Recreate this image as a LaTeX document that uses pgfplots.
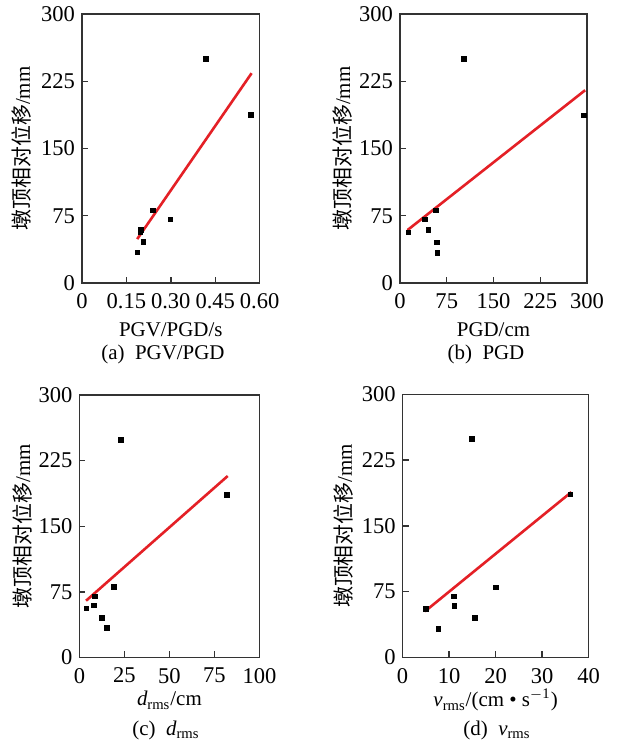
\documentclass[border=0pt]{standalone}
\usepackage{fontspec}
\setmainfont{Liberation Serif}
\newfontfamily\cjk{Noto Sans CJK SC}
\usepackage{pgfplots}
\pgfplotsset{compat=1.18}
\definecolor{fitred}{RGB}{228,32,38}
\pgfplotsset{
  panel/.style={
    scale only axis,
    anchor=south west,
    ymin=0, ymax=300,
    ytick={0,75,150,225,300},
    tick align=inside,
    tick pos=left,
    major tick length=3bp,
    axis line style={line width=0.75bp, black!80},
    every tick/.style={line width=0.7bp, black!80},
    /pgf/number format/assume math mode=true,
    tick label style={font=\fontsize{11.3}{13}\selectfont},
    label style={font=\fontsize{10.5}{12}\selectfont},
    xticklabel style={yshift=-1.8bp},
    ylabel={{\cjk 墩顶相对位移}/mm},
  },
  pts/.style={only marks, mark=square*, mark size=1.15bp, black},
  fit/.style={fitred, line width=1.3bp, no marks},
}
\begin{document}
\begin{tikzpicture}
\useasboundingbox[fill=white] (0,0) rectangle (309bp,-373bp);
% (a)
\begin{axis}[panel, at={(41bp,-141.5bp)}, width=88.8bp, height=134.5bp,
  xmin=0, xmax=0.6, xtick={0,0.15,0.3,0.45,0.6},
  xticklabels={0,0.15,0.30,0.45,0.60},
  xlabel={PGV/PGD/s},
  xlabel style={at={(axis description cs:0.5,-0.175)}, anchor=center},
  ylabel style={at={(axis description cs:-0.338,0.5)}, anchor=center}]
\addplot[pts] coordinates {(0.419,250) (0.570,187.5) (0.2385,81) (0.298,71) (0.198,59.5) (0.197,57) (0.208,46) (0.1876,34)};
\addplot[fit] coordinates {(0.1865,49) (0.573,234)};
\end{axis}
% (b)
\begin{axis}[panel, at={(200bp,-141.5bp)}, width=93.5bp, height=134.5bp,
  xmin=0, xmax=300, xtick={0,75,150,225,300},
  xlabel={PGD/cm},
  xlabel style={at={(axis description cs:0.5,-0.175)}, anchor=center},
  ylabel style={at={(axis description cs:-0.31,0.5)}, anchor=center}]
\addplot[pts] coordinates {(102.5,250) (295,187) (57.7,81) (40,71) (45.4,59.5) (13.3,56.5) (59.3,45.5) (59.8,33.5)};
\addplot[fit] coordinates {(12,59) (297,215)};
\end{axis}
% (c)
\begin{axis}[panel, at={(39.7bp,-328.7bp)}, width=90bp, height=131.2bp,
  xmin=0, xmax=100, xtick={0,25,50,75,100},
  xlabel={{\itshape d}\textsubscript{rms}/cm},
  xlabel style={at={(axis description cs:0.5,-0.163)}, anchor=center},
  ylabel style={at={(axis description cs:-0.318,0.5)}, anchor=center}]
\addplot[pts] coordinates {(23.1,249) (82,185.6) (19.1,80.4) (8.7,69.8) (8.0,59.5) (3.9,56) (12.4,45.4) (15.4,33.9)};
\addplot[fit] coordinates {(3.7,64.8) (82.4,207.4)};
\end{axis}
% (d)
\begin{axis}[panel, at={(201.3bp,-328.7bp)}, width=93bp, height=131.5bp,
  xmin=0, xmax=40, xtick={0,10,20,30,40},
  xlabel={{\itshape v}\textsubscript{rms}/(cm \textbullet\ s\textsuperscript{\(-\)1})},
  xlabel style={at={(axis description cs:0.5,-0.163)}, anchor=center},
  ylabel style={at={(axis description cs:-0.316,0.5)}, anchor=center}]
\addplot[pts] coordinates {(14.9,249.4) (36.1,186) (20.1,79.8) (11.0,69.6) (11.1,58.9) (5.0,55.5) (15.6,44.9) (7.7,32.7)};
\addplot[fit] coordinates {(4.8,52.5) (36.3,188.6)};
\end{axis}
\begin{scope}[every node/.style={font=\fontsize{10.5}{12}\selectfont}]
\node at (81.5bp,-177bp) {(a)~~PGV/PGD};
\node at (243bp,-177bp) {(b)~~PGD};
\node at (83bp,-365bp) {(c)~~{\itshape d}\textsubscript{rms}};
\node at (248.5bp,-365bp) {(d)~~{\itshape v}\textsubscript{rms}};
\end{scope}
\end{tikzpicture}
\end{document}
